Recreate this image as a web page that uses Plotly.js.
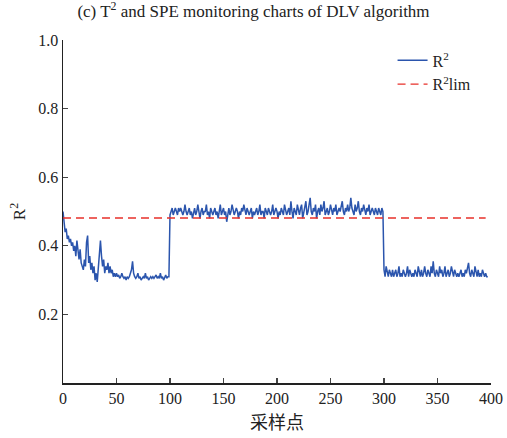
<!DOCTYPE html>
<html>
<head>
<meta charset="utf-8">
<script src="https://cdn.plot.ly/plotly-3.0.1.min.js"></script>
<style>html,body{margin:0;padding:0;background:#fff;}#chart{width:507px;height:438px;}</style>
</head>
<body>
<div id="chart"></div>
<script>
// R² values, sample points 0..397
const seg1 = [
0.50,0.46,0.44,0.45,0.42,0.43,0.41,0.42,0.40,0.41,
0.385,0.40,0.37,0.415,0.38,0.36,0.39,0.35,0.34,0.33,
0.36,0.34,0.41,0.43,0.35,0.37,0.33,0.35,0.32,0.34,
0.30,0.32,0.295,0.33,0.36,0.415,0.37,0.34,0.36,0.32,
0.34,0.33,0.35,0.32,0.34,0.32,0.33,0.31,0.32,0.31,
0.32,0.31,0.315,0.305,0.31,0.32,0.31,0.305,0.31,0.30,
0.31,0.305,0.31,0.32,0.33,0.355,0.32,0.31,0.305,0.31,
0.32,0.305,0.31,0.30,0.305,0.31,0.305,0.32,0.305,0.31,
0.30,0.305,0.31,0.305,0.31,0.305,0.31,0.315,0.305,0.31,
0.305,0.32,0.305,0.31,0.30,0.31,0.315,0.305,0.31,0.31];
const seg2 = [
0.49,0.50,0.51,0.49,0.50,0.51,0.50,0.49,0.51,0.50,
0.51,0.50,0.49,0.50,0.52,0.50,0.49,0.50,0.51,0.49,
0.50,0.48,0.50,0.51,0.49,0.50,0.52,0.49,0.48,0.50,
0.51,0.49,0.50,0.50,0.52,0.49,0.50,0.48,0.51,0.50,
0.49,0.50,0.51,0.49,0.50,0.48,0.50,0.52,0.49,0.50,
0.51,0.49,0.50,0.47,0.50,0.51,0.49,0.50,0.52,0.50,
0.49,0.50,0.51,0.50,0.48,0.50,0.49,0.51,0.50,0.52,
0.50,0.49,0.51,0.50,0.49,0.50,0.51,0.48,0.50,0.49,
0.50,0.51,0.49,0.50,0.52,0.49,0.50,0.50,0.48,0.51,
0.50,0.49,0.51,0.50,0.49,0.50,0.52,0.49,0.50,0.51,
0.50,0.48,0.50,0.49,0.51,0.50,0.49,0.52,0.50,0.49,
0.50,0.51,0.49,0.53,0.50,0.48,0.51,0.50,0.49,0.52,
0.50,0.49,0.51,0.52,0.48,0.50,0.51,0.53,0.49,0.50,
0.52,0.54,0.50,0.49,0.51,0.50,0.52,0.48,0.50,0.51,
0.49,0.52,0.50,0.51,0.53,0.49,0.50,0.51,0.49,0.50,
0.52,0.50,0.49,0.51,0.50,0.52,0.49,0.50,0.51,0.50,
0.52,0.53,0.50,0.49,0.51,0.50,0.52,0.50,0.51,0.54,
0.51,0.50,0.49,0.52,0.50,0.51,0.53,0.50,0.49,0.51,
0.50,0.52,0.50,0.49,0.51,0.50,0.52,0.49,0.50,0.51,
0.50,0.49,0.51,0.50,0.49,0.51,0.50,0.49,0.51,0.50];
const seg3 = [
0.33,0.31,0.34,0.32,0.31,0.33,0.32,0.31,0.33,0.31,
0.32,0.33,0.31,0.32,0.34,0.31,0.32,0.31,0.33,0.32,
0.31,0.32,0.34,0.31,0.33,0.32,0.31,0.32,0.31,0.33,
0.32,0.31,0.34,0.32,0.31,0.33,0.31,0.32,0.34,0.32,
0.31,0.33,0.32,0.31,0.34,0.32,0.355,0.32,0.31,0.33,
0.32,0.31,0.34,0.32,0.33,0.31,0.32,0.34,0.31,0.32,
0.33,0.31,0.32,0.34,0.32,0.31,0.33,0.32,0.31,0.32,
0.31,0.32,0.33,0.31,0.32,0.31,0.33,0.32,0.34,0.35,
0.32,0.31,0.33,0.32,0.31,0.34,0.32,0.31,0.33,0.31,
0.32,0.31,0.33,0.32,0.31,0.32,0.31,0.31];
const r2 = seg1.concat(seg2, seg3);
const samples = r2.map((_, i) => i);
const r2lim = 0.481;
const limX = [0, 395];
const limY = [r2lim, r2lim];
const xTicks = [0, 50, 100, 150, 200, 250, 300, 350, 400];
const yTicks = [0.2, 0.4, 0.6, 0.8, 1.0];

const serif = '"Liberation Serif"';
const traces = [
  {x: samples, y: r2, type: 'scatter', mode: 'lines', name: 'R<sup>2</sup>',
   line: {color: '#2b55ad', width: 1.5}},
  {x: limX, y: limY, type: 'scatter', mode: 'lines', name: 'R<sup>2</sup>lim',
   line: {color: '#e8302a', width: 1.3, dash: '8px,5px'}}
];
const layout = {
  width: 507, height: 438,
  margin: {l: 63, r: 16, t: 40, b: 55},
  paper_bgcolor: '#fff', plot_bgcolor: '#fff',
  font: {family: serif, size: 16, color: '#222'},
  title: {text: '(c) T<sup>2</sup> and SPE monitoring charts of DLV algorithm',
          x: 0.5, xanchor: 'center', y: 0.975, yanchor: 'middle',
          font: {family: serif, size: 17, color: '#222'}},
  xaxis: {range: [0, 400], tickvals: xTicks, ticks: 'inside', ticklen: 5, tickwidth: 1.2,
          showline: true, linecolor: '#222', linewidth: 1.5, showgrid: false, zeroline: false,
          tickfont: {family: serif, size: 16, color: '#222'},
          title: {text: '采样点', font: {family: '"Noto Sans CJK SC"', size: 18, color: '#222'}, standoff: 10}},
  yaxis: {range: [0, 1.0], tickvals: yTicks, tickformat: '.1f', ticks: 'inside', ticklen: 5, tickwidth: 1.2,
          showline: true, linecolor: '#222', linewidth: 1.5, showgrid: false, zeroline: false,
          tickfont: {family: serif, size: 16, color: '#222'},
          title: {text: 'R<sup>2</sup>', font: {family: serif, size: 17, color: '#222'}, standoff: 8}},
  showlegend: true,
  legend: {x: 0.77, y: 0.99, xanchor: 'left', yanchor: 'top', bgcolor: 'rgba(0,0,0,0)',
           font: {family: serif, size: 16, color: '#222'}, tracegroupgap: 0, itemwidth: 30}
};
Plotly.newPlot('chart', traces, layout, {displayModeBar: false, staticPlot: true});
</script>
</body>
</html>
